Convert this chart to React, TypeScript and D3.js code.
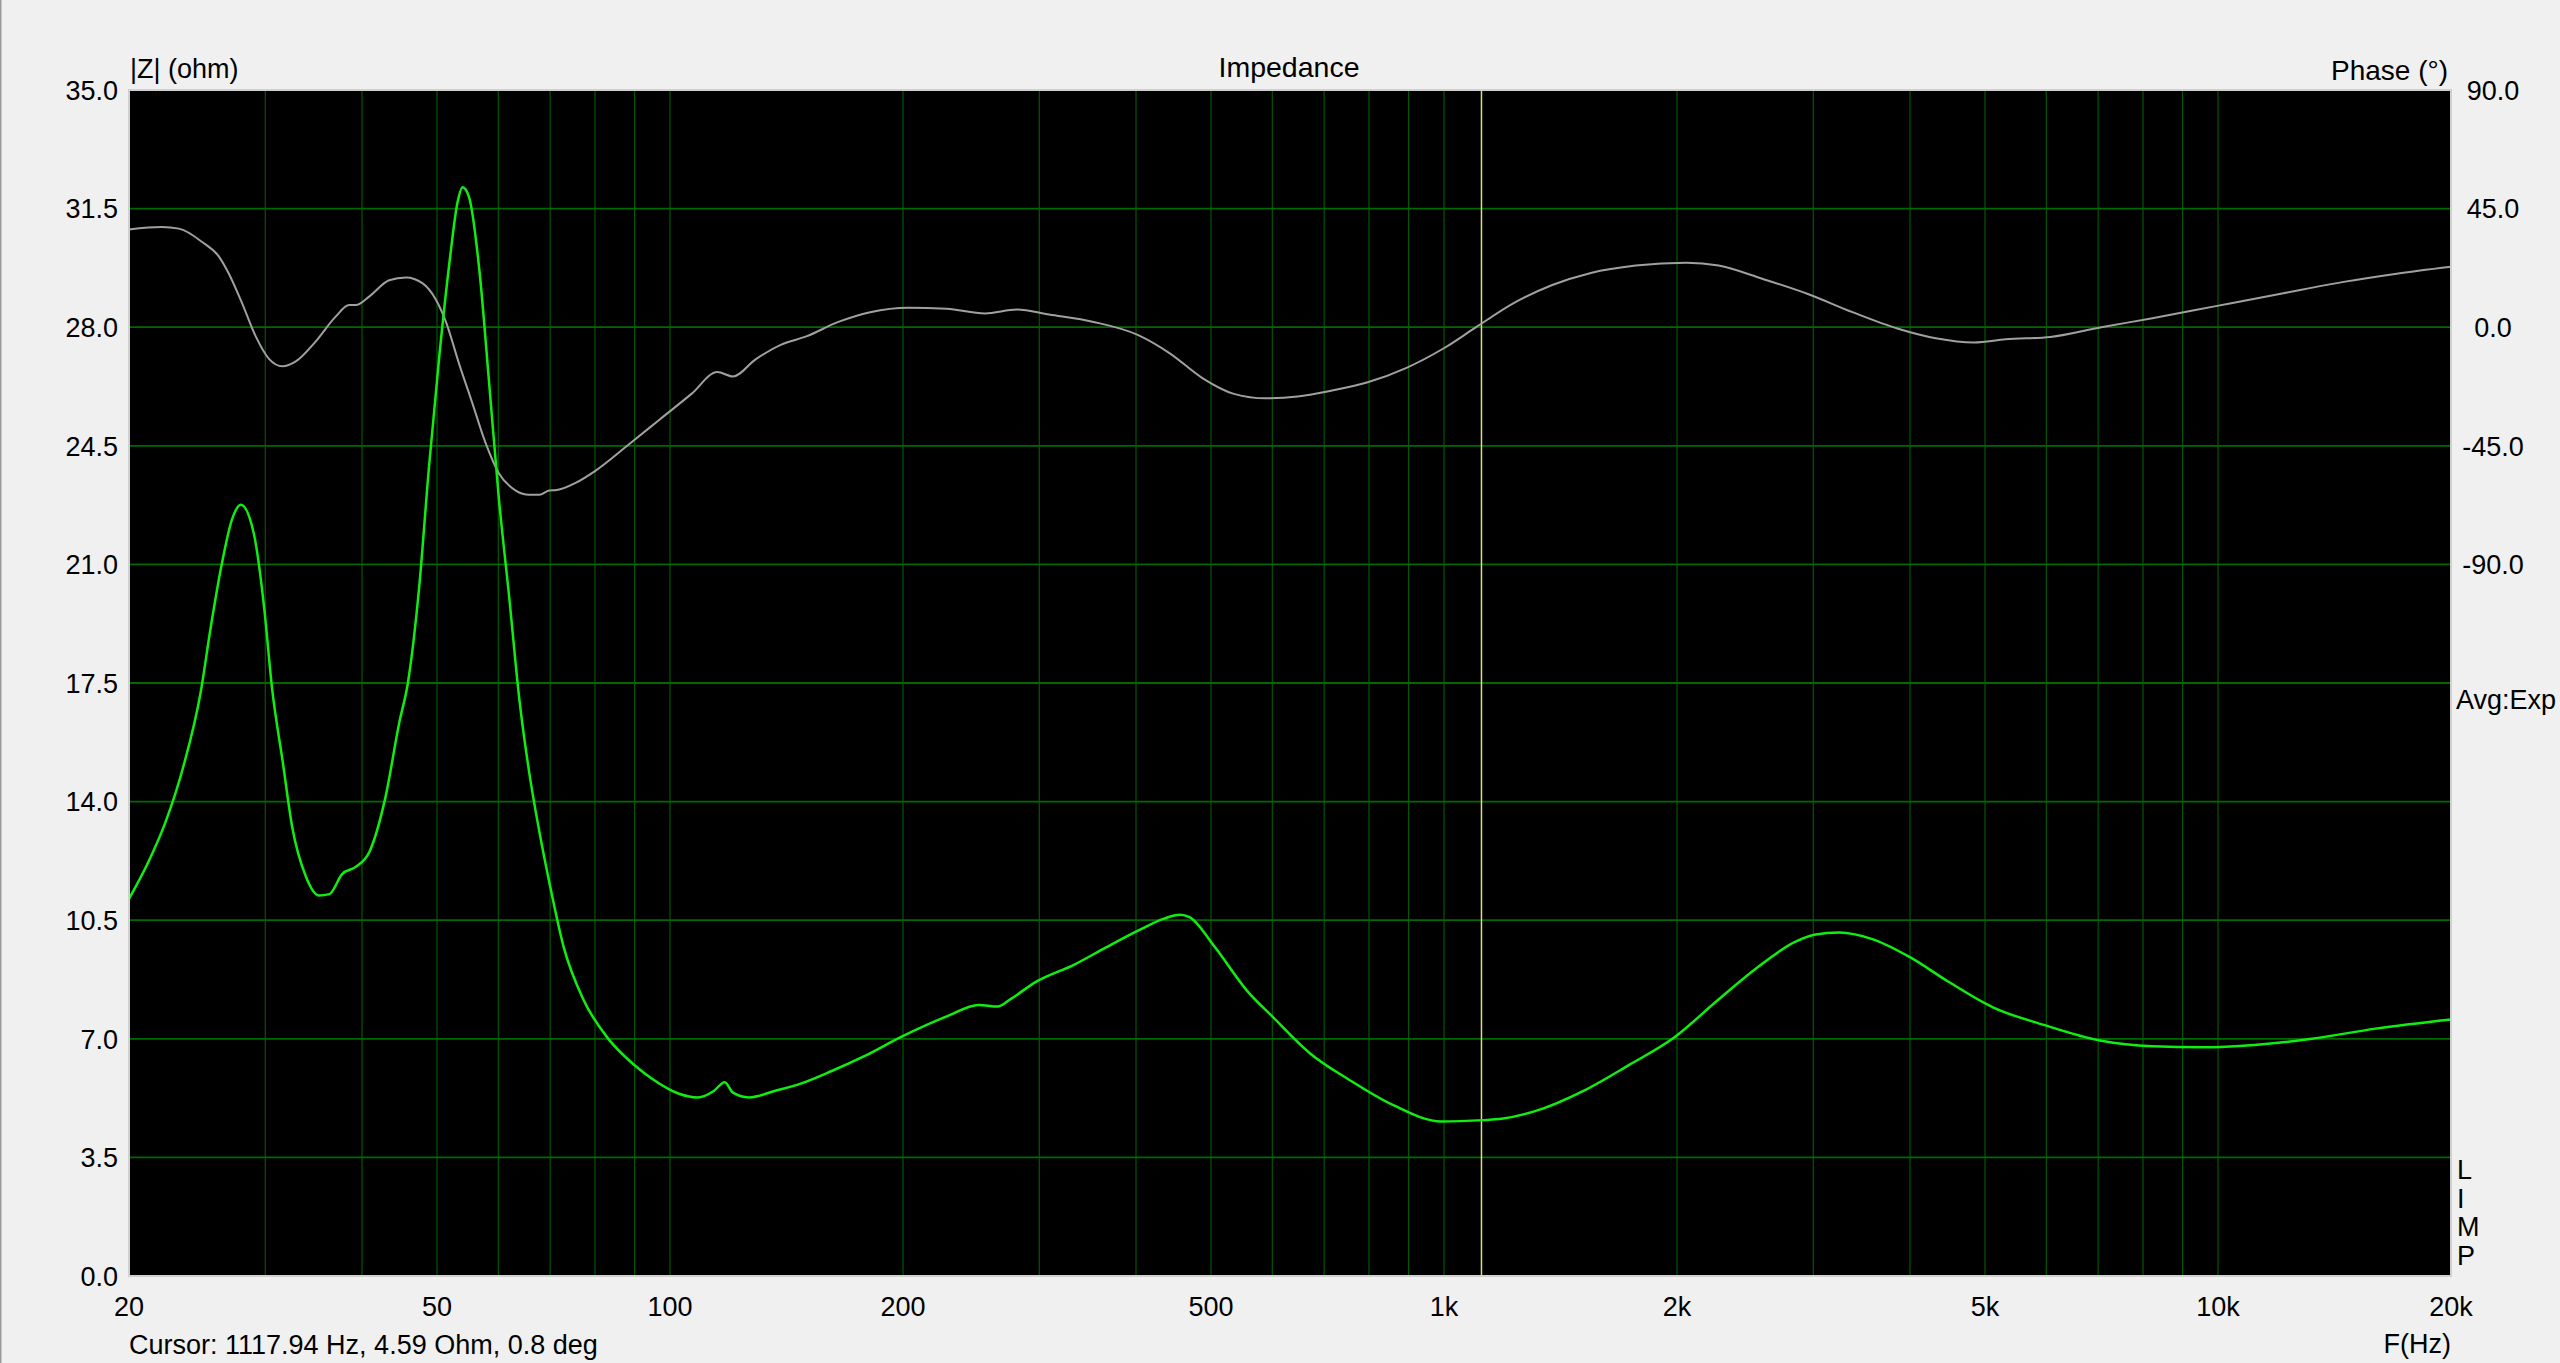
import React from 'react';
import * as d3 from 'd3';

// impedance magnitude
const impedanceHz = [
  20, 21.2, 22.3, 23.5, 24.75, 25.5, 26.3, 27.2, 27.9, 29.0, 29.9, 30.6, 31.6, 32.5, 33.85,
  35.2, 36.3, 37.7, 39.3, 40.9, 42.9, 44.7, 45.85, 47.4, 48.8, 50.3, 51.85, 53.15, 53.95,
  55.0, 56.7, 58.4, 60.1, 62.0, 63.84, 65.77, 67.8, 69.8, 72.9, 77.25, 83.3, 90, 95.1,
  102.7, 108.7, 113.9, 117.7, 120.6, 126.5, 136.5, 147.2, 161.8, 178, 199.5, 227.8, 250.5,
  265, 275.4, 297, 333, 366, 403, 434, 456, 469, 506, 556, 600, 672, 753, 860, 992, 1122,
  1187, 1305, 1519, 1735, 1981, 2263, 2535, 2842, 3008, 3246, 3568, 3999, 4481, 5119, 5957,
  7068, 8226, 9572, 11144, 13215, 15978, 20000,
];
const impedanceOhm = [
  11.13, 12.23, 13.4, 15.02, 17.22, 19.13, 20.9, 22.36, 22.76, 21.9, 19.72, 17.37, 15.17, 13.25, 11.79,
  11.23, 11.27, 11.86, 12.08, 12.52, 14.14, 16.34, 17.5, 20.29, 23.83, 27.06, 29.85, 31.69, 32.13,
  31.84, 29.71, 26.33, 22.95, 20.0, 17.07, 14.87, 13.11, 11.64, 9.7, 8.17, 6.99, 6.22, 5.8,
  5.38, 5.27, 5.46, 5.72, 5.41, 5.27, 5.46, 5.67, 6.05, 6.48, 7.07, 7.66, 8.0,
  7.95, 8.17, 8.68, 9.19, 9.7, 10.2, 10.54, 10.66, 10.59, 9.7, 8.43, 7.66, 6.56, 5.8, 5.04, 4.56, 4.6,
  4.64, 4.85, 5.48, 6.23, 7.03, 8.16, 9.09, 9.86, 10.07, 10.14, 9.95, 9.41, 8.69, 7.93, 7.41,
  6.94, 6.78, 6.75, 6.82, 7.0, 7.3, 7.57,
];

// phase, degrees
const phaseHz = [
  20, 22.05, 23.2, 24.87, 26.15, 26.94, 28.03, 29.16, 30.33, 31.58, 32.85, 34.86, 36.98, 38.5,
  39.27, 40.86, 43.36, 45.6, 47.87, 49.8, 51.33, 53.4, 55.57, 57.8, 60.1, 63.2, 65.77, 67.8,
  69.8, 71.4, 75.6, 80.0, 88.2, 97.0, 106.6, 115.1, 120.6, 129, 139, 150, 165, 181.4, 203,
  227.8, 255.2, 280.7, 308.9, 352.6, 402.7, 442.8, 486.8, 535.3, 588.4, 647, 711.6, 797, 893,
  1002, 1100, 1232, 1380, 1548, 1769, 2058, 2263, 2583, 2952, 3371, 3852, 4318, 4839, 5316,
  6072, 7068, 8226, 9938, 12010, 14533, 16930, 20000,
];
const phaseDeg = [
  37.1, 38.0, 37.4, 32.3, 26.7, 20.1, 8.75, -3.5, -12.0, -14.85, -13.0, -5.4, 4.0, 8.4,
  8.4, 11.6, 17.8, 18.9, 16.7, 10.6, 2.1, -13.9, -29.0, -44.1, -55.4, -62.0, -63.6, -63.6,
  -62.0, -61.8, -59.0, -54.6, -44.8, -35.0, -25.3, -17.0, -18.7, -12.2, -6.7, -3.5, 2.0, 5.7, 7.4,
  7.0, 5.2, 6.7, 4.8, 2.0, -3.0, -10.0, -19.2, -25.3, -27.0, -26.3, -24.2, -20.9, -15.5,
  -7.8, 0, 9.2, 16.0, 20.6, 23.4, 24.5, 23.4, 18.3, 12.6, 5.7, -0.5, -4.2, -5.8, -4.6,
  -3.7, 0, 3.4, 8.0, 12.6, 17.2, 20.2, 22.9,
];

const xTickHz = [20, 50, 100, 200, 500, 1000, 2000, 5000, 10000, 20000];
const xTickText = ['20', '50', '100', '200', '500', '1k', '2k', '5k', '10k', '20k'];
const ohmTicks = [0, 3.5, 7, 10.5, 14, 17.5, 21, 24.5, 28, 31.5, 35];
const phaseTicks = [90, 45, 0, -45, -90];
const cursorHz = 1117.94;
const cursorText = 'Cursor: 1117.94 Hz, 4.59 Ohm, 0.8 deg';

const W = 2560;
const H = 1363;
const box = { left: 129, top: 90, right: 2451, bottom: 1276 };
const font = 'Liberation Sans, Arial, sans-serif';
const fs = 27;

const gridHz: number[] = [];
[10, 100, 1000, 10000].forEach(dec => {
  for (let k = 1; k <= 9; k++) {
    const f = dec * k;
    if (f > 20 && f < 20000) gridHz.push(f);
  }
});

// plain hyphen for negatives, like the original
const fmt = (v: number) => v.toFixed(1);

const App: React.FC = () => {
  const x = d3.scaleLog().domain([20, 20000]).range([box.left, box.right]);
  const yZ = d3.scaleLinear().domain([0, 35]).range([box.bottom, box.top]);
  const yP = d3.scaleLinear().domain([-360, 90]).range([box.bottom, box.top]);

  const zLine = d3
    .line<number>()
    .x((d, i) => x(impedanceHz[i]))
    .y(d => yZ(d))
    .curve(d3.curveMonotoneX);
  const pLine = d3
    .line<number>()
    .x((d, i) => x(phaseHz[i]))
    .y(d => yP(d))
    .curve(d3.curveMonotoneX);

  const limp = ['L', 'I', 'M', 'P'];

  return (
    <svg
      width={W}
      height={H}
      style={{ position: 'absolute', left: 0, top: 0, display: 'block' }}
      fontFamily={font}
      fontSize={fs}
    >
      <rect x={0} y={0} width={W} height={H} fill="#f0f0f0" />
      <rect x={0} y={0} width={1.5} height={H} fill="#9a9a9a" />

      {/* plot area */}
      <rect
        x={box.left}
        y={box.top}
        width={box.right - box.left}
        height={box.bottom - box.top}
        fill="#000"
      />

      {/* grid */}
      {gridHz.map(f => (
        <line
          key={'v' + f}
          x1={x(f)}
          x2={x(f)}
          y1={box.top}
          y2={box.bottom}
          stroke="#005800"
          strokeWidth={1.2}
        />
      ))}
      {ohmTicks.slice(1, -1).map(t => (
        <line
          key={'h' + t}
          x1={box.left}
          x2={box.right}
          y1={yZ(t)}
          y2={yZ(t)}
          stroke="#006a00"
          strokeWidth={1.8}
        />
      ))}

      {/* cursor */}
      <line
        x1={x(cursorHz)}
        x2={x(cursorHz)}
        y1={box.top}
        y2={box.bottom}
        stroke="#dede70"
        strokeWidth={1.5}
      />

      {/* curves */}
      <path d={pLine(phaseDeg) || ''} fill="none" stroke="#a0a0a0" strokeWidth={2} />
      <path d={zLine(impedanceOhm) || ''} fill="none" stroke="#10ee10" strokeWidth={2.5} />

      <rect
        x={box.left}
        y={box.top}
        width={box.right - box.left}
        height={box.bottom - box.top}
        fill="none"
        stroke="#d0d0d0"
        strokeWidth={2}
      />

      {/* left axis */}
      {ohmTicks.map(t => (
        <text key={'l' + t} x={box.left - 11} y={yZ(t)} dy="0.36em" textAnchor="end" fill="#000">
          {fmt(t)}
        </text>
      ))}
      {/* right axis */}
      {phaseTicks.map(t => (
        <text key={'r' + t} x={2493} y={yP(t)} dy="0.36em" textAnchor="middle" fill="#000">
          {fmt(t)}
        </text>
      ))}

      {/* bottom axis */}
      {xTickHz.map((f, i) => (
        <text key={'b' + f} x={x(f)} y={1316} textAnchor="middle" fill="#000">
          {xTickText[i]}
        </text>
      ))}

      <text x={130} y={78} fill="#000">|Z| (ohm)</text>
      <text x={1289} y={77} textAnchor="middle" fill="#000" fontSize={28.5}>Impedance</text>
      <text x={2448} y={80} textAnchor="end" fill="#000" fontSize={28}>Phase (°)</text>
      <text x={2456} y={yZ(17.5) + 26} fill="#000">Avg:Exp</text>
      {limp.map((c, i) => (
        <text key={c} x={2457} y={1179 + i * 28.7} fill="#000">{c}</text>
      ))}
      <text x={129} y={1354} fill="#000">{cursorText}</text>
      <text x={box.right} y={1353} textAnchor="end" fill="#000">F(Hz)</text>
    </svg>
  );
};

export default App;
